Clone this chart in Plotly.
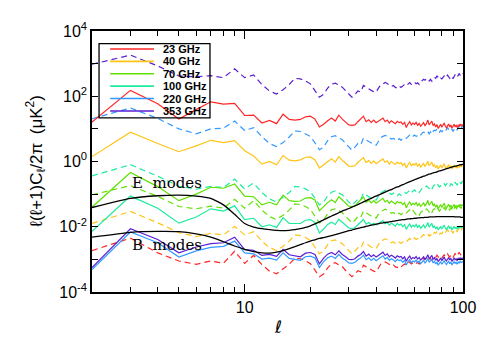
"""
Foreground E/B power spectra per frequency band, compared with the
CMB E-mode and B-mode spectra (log-log).
Values are stored as log10 of l(l+1)C_l/2pi in uK^2, one per multipole.
"""

import numpy as np
import plotly.graph_objects as go

ELL = list(range(2, 101))

FREQ_LABELS = ["23 GHz", "40 GHz", "70 GHz", "100 GHz", "220 GHz", "353 GHz"]
FREQ_COLORS = ["#ff2626", "#ffc414", "#5ee000", "#1cec9c", "#3399ff", "#5a1fd2"]

# --- solid lines (E) ---------------------------------------------------
E23 = [1.21, 2.18, 1.77, 1.30, 1.59, 1.83, 1.76, 1.78, 1.41, 1.42,
       1.18, 1.26, 1.16, 1.45, 1.29, 1.27, 1.29, 1.37, 1.39, 1.30,
       1.06, 1.14, 1.25, 1.33, 1.24, 1.42, 1.30, 1.22, 1.12, 1.11,
       1.12, 1.22, 1.30, 1.39, 1.22, 1.28, 1.20, 1.27, 1.19, 1.24,
       1.30, 1.33, 1.22, 1.27, 1.18, 1.25, 1.20, 1.16, 1.23, 1.19,
       1.21, 1.14, 1.20, 1.04, 1.15, 1.22, 1.12, 1.18, 1.14, 1.20,
       1.11, 1.17, 1.08, 1.13, 1.19, 1.10, 1.16, 1.27, 1.12, 1.18,
       1.24, 1.10, 1.15, 1.06, 1.13, 1.01, 1.09, 1.14, 1.05, 1.12,
       1.18, 1.08, 1.03, 1.10, 1.15, 1.06, 1.12, 1.02, 1.09, 1.14,
       1.07, 1.11, 1.04, 1.12, 1.08, 1.15, 1.09, 1.13, 1.10]
E40 = [0.15, 0.90, 0.55, 0.30, 0.48, 0.65, 0.58, 0.64, 0.33, 0.17,
       -0.08, 0.00, -0.10, 0.18, 0.04, 0.02, 0.05, 0.13, 0.14, 0.05,
       -0.20, -0.10, 0.00, 0.08, -0.02, 0.15, 0.04, -0.04, -0.14, -0.15,
       -0.13, -0.03, 0.05, 0.12, -0.03, 0.03, -0.06, 0.02, -0.07, -0.01,
       0.05, 0.08, -0.03, 0.02, -0.08, 0.00, -0.05, -0.09, -0.02, -0.06,
       -0.04, -0.12, -0.05, -0.20, -0.10, -0.03, -0.13, -0.07, -0.11, -0.05,
       -0.14, -0.08, -0.17, -0.12, -0.06, -0.15, -0.09, 0.01, -0.13, -0.07,
       -0.02, -0.15, -0.10, -0.19, -0.12, -0.23, -0.16, -0.11, -0.20, -0.13,
       -0.07, -0.17, -0.22, -0.15, -0.10, -0.19, -0.13, -0.23, -0.16, -0.11,
       -0.18, -0.14, -0.21, -0.13, -0.17, -0.10, -0.16, -0.12, -0.14]
E70 = [-1.40, -0.34, -0.77, -1.20, -1.00, -0.79, -0.82, -0.69, -1.06, -1.08,
       -1.33, -1.25, -1.33, -1.03, -1.20, -1.22, -1.21, -1.12, -1.11, -1.18,
       -1.51, -1.38, -1.26, -1.17, -1.26, -1.08, -1.19, -1.27, -1.37, -1.38,
       -1.36, -1.26, -1.18, -1.09, -1.25, -1.19, -1.27, -1.20, -1.28, -1.22,
       -1.16, -1.13, -1.24, -1.19, -1.28, -1.21, -1.26, -1.30, -1.23, -1.27,
       -1.25, -1.32, -1.26, -1.42, -1.31, -1.24, -1.34, -1.28, -1.32, -1.26,
       -1.35, -1.29, -1.38, -1.33, -1.27, -1.36, -1.30, -1.19, -1.34, -1.28,
       -1.22, -1.36, -1.31, -1.40, -1.33, -1.45, -1.37, -1.32, -1.41, -1.34,
       -1.28, -1.38, -1.43, -1.36, -1.31, -1.40, -1.34, -1.44, -1.37, -1.32,
       -1.39, -1.35, -1.42, -1.34, -1.38, -1.31, -1.37, -1.33, -1.36]
E100 = [-2.14, -1.06, -1.43, -1.89, -1.70, -1.45, -1.52, -1.36, -1.78, -1.74,
        -2.00, -1.94, -2.02, -1.72, -1.90, -1.89, -1.90, -1.80, -1.78, -1.87,
        -2.19, -2.07, -1.93, -1.86, -1.93, -1.77, -1.86, -1.96, -2.04, -2.06,
        -2.03, -1.94, -1.85, -1.78, -1.92, -1.87, -1.94, -1.89, -1.95, -1.90,
        -1.84, -1.81, -1.91, -1.87, -1.95, -1.89, -1.93, -1.98, -1.90, -1.95,
        -1.92, -2.00, -1.93, -2.08, -1.98, -1.91, -2.01, -1.95, -2.00, -1.93,
        -2.02, -1.96, -2.05, -2.00, -1.94, -2.03, -1.97, -1.87, -2.01, -1.95,
        -1.90, -2.03, -1.98, -2.06, -2.00, -2.10, -2.03, -1.99, -2.07, -2.01,
        -1.95, -2.04, -2.09, -2.02, -1.98, -2.06, -2.00, -2.10, -2.03, -1.99,
        -2.05, -2.01, -2.08, -2.00, -2.04, -1.98, -2.03, -2.00, -2.02]
E220 = [-3.31, -2.16, -2.49, -2.93, -2.74, -2.63, -2.60, -2.44, -2.80, -2.83,
        -2.99, -2.96, -3.02, -2.80, -2.97, -3.01, -3.03, -2.92, -2.90, -2.96,
        -3.25, -3.07, -2.95, -2.90, -2.97, -2.85, -2.96, -3.03, -3.11, -3.12,
        -3.09, -3.01, -2.96, -2.87, -3.01, -2.95, -3.03, -2.97, -3.04, -2.99,
        -2.93, -2.89, -2.99, -2.94, -3.03, -2.98, -3.02, -3.07, -3.00, -3.04,
        -3.02, -3.09, -3.03, -3.17, -3.07, -3.01, -3.10, -3.05, -3.08, -3.02,
        -3.10, -3.05, -3.13, -3.09, -3.03, -3.11, -3.06, -2.97, -3.09, -3.04,
        -2.99, -3.11, -3.06, -3.14, -3.08, -3.18, -3.11, -3.07, -3.15, -3.09,
        -3.04, -3.12, -3.16, -3.10, -3.06, -3.13, -3.08, -3.17, -3.11, -3.07,
        -3.12, -3.09, -3.15, -3.08, -3.11, -3.06, -3.10, -3.07, -3.09]
E353 = [-3.25, -2.06, -2.39, -2.80, -2.62, -2.52, -2.49, -2.32, -2.70, -2.72,
        -2.88, -2.85, -2.91, -2.69, -2.86, -2.90, -2.92, -2.81, -2.79, -2.85,
        -3.14, -2.96, -2.84, -2.79, -2.86, -2.74, -2.85, -2.92, -3.00, -3.01,
        -2.98, -2.90, -2.85, -2.76, -2.90, -2.84, -2.92, -2.86, -2.93, -2.88,
        -2.82, -2.78, -2.88, -2.83, -2.92, -2.87, -2.91, -2.96, -2.89, -2.93,
        -2.91, -2.98, -2.92, -3.06, -2.96, -2.90, -2.99, -2.94, -2.97, -2.91,
        -2.99, -2.94, -3.02, -2.98, -2.92, -3.00, -2.95, -2.86, -2.98, -2.93,
        -2.88, -3.00, -2.95, -3.03, -2.97, -3.07, -3.00, -2.96, -3.04, -2.98,
        -2.93, -3.01, -3.05, -2.99, -2.95, -3.02, -2.97, -3.06, -3.00, -2.96,
        -3.01, -2.98, -3.04, -2.97, -3.00, -2.95, -2.99, -2.96, -2.98]

# --- dashed lines (B) --------------------------------------------------
B23 = [-2.73, -2.35, -2.80, -3.05, -3.15, -3.05, -3.12, -2.75, -3.12, -2.88,
       -3.16, -3.36, -3.44, -3.30, -3.15, -2.96, -2.98, -3.04, -3.13, -3.33,
       -3.53, -3.45, -3.26, -3.14, -3.10, -3.17, -3.22, -3.34, -3.44, -3.53,
       -3.45, -3.35, -3.38, -3.18, -3.23, -3.28, -3.32, -3.36, -3.38, -3.25,
       -3.15, -3.12, -3.08, -3.11, -3.16, -3.20, -3.17, -3.23, -3.25, -3.19,
       -3.23, -3.17, -3.14, -3.18, -3.12, -3.08, -3.14, -3.10, -3.07, -3.12,
       -3.09, -3.14, -3.05, -3.01, -2.97, -3.00, -2.94, -2.96, -3.02, -2.97,
       -3.03, -2.95, -2.91, -2.94, -2.87, -2.92, -2.97, -2.93, -2.96, -2.91,
       -2.86, -2.92, -2.88, -2.83, -2.89, -2.93, -2.86, -2.88, -2.94, -2.88,
       -2.82, -2.86, -2.90, -2.84, -2.78, -2.83, -2.87, -2.80, -2.78]
B40 = [-1.90, -1.53, -1.88, -2.18, -2.30, -2.20, -2.25, -1.99, -2.25, -2.15,
       -2.44, -2.64, -2.73, -2.60, -2.44, -2.25, -2.27, -2.33, -2.42, -2.62,
       -2.83, -2.74, -2.55, -2.43, -2.40, -2.46, -2.52, -2.63, -2.73, -2.83,
       -2.75, -2.64, -2.67, -2.47, -2.52, -2.58, -2.62, -2.66, -2.67, -2.54,
       -2.44, -2.41, -2.37, -2.40, -2.45, -2.49, -2.46, -2.52, -2.53, -2.47,
       -2.51, -2.45, -2.42, -2.46, -2.40, -2.36, -2.42, -2.38, -2.34, -2.39,
       -2.36, -2.41, -2.32, -2.28, -2.24, -2.27, -2.21, -2.23, -2.29, -2.24,
       -2.30, -2.21, -2.17, -2.20, -2.13, -2.17, -2.23, -2.19, -2.22, -2.16,
       -2.12, -2.18, -2.14, -2.09, -2.15, -2.19, -2.12, -2.14, -2.20, -2.13,
       -2.07, -2.11, -2.15, -2.09, -2.03, -2.08, -2.12, -2.05, -2.03]
B70 = [-1.02, -0.74, -1.07, -1.38, -1.45, -1.37, -1.43, -1.16, -1.43, -1.20,
       -1.49, -1.69, -1.78, -1.65, -1.49, -1.30, -1.32, -1.38, -1.47, -1.67,
       -1.88, -1.79, -1.60, -1.48, -1.45, -1.51, -1.57, -1.68, -1.78, -1.88,
       -1.80, -1.69, -1.72, -1.52, -1.57, -1.63, -1.67, -1.71, -1.73, -1.62,
       -1.53, -1.50, -1.46, -1.49, -1.55, -1.59, -1.56, -1.62, -1.64, -1.58,
       -1.63, -1.57, -1.54, -1.58, -1.52, -1.48, -1.55, -1.50, -1.57, -1.63,
       -1.59, -1.65, -1.56, -1.53, -1.49, -1.52, -1.46, -1.49, -1.55, -1.50,
       -1.57, -1.48, -1.45, -1.48, -1.41, -1.46, -1.52, -1.47, -1.51, -1.46,
       -1.41, -1.48, -1.44, -1.39, -1.45, -1.49, -1.42, -1.45, -1.51, -1.44,
       -1.38, -1.42, -1.47, -1.40, -1.35, -1.40, -1.44, -1.37, -1.35]
B100 = [-0.44, -0.10, -0.45, -0.76, -0.85, -0.76, -0.80, -0.54, -0.84, -0.66,
        -0.95, -1.15, -1.24, -1.10, -0.95, -0.76, -0.78, -0.84, -0.93, -1.12,
        -1.33, -1.25, -1.05, -0.94, -0.90, -0.97, -1.02, -1.14, -1.23, -1.34,
        -1.25, -1.15, -1.17, -0.97, -1.03, -1.08, -1.12, -1.17, -1.18, -1.06,
        -0.95, -0.93, -0.88, -0.92, -0.96, -1.01, -0.97, -1.04, -1.05, -0.99,
        -1.04, -0.97, -0.95, -0.98, -0.93, -0.88, -0.95, -0.90, -0.87, -0.93,
        -0.89, -0.95, -0.86, -0.82, -0.79, -0.81, -0.75, -0.78, -0.83, -0.78,
        -0.85, -0.76, -0.72, -0.75, -0.68, -0.73, -0.78, -0.74, -0.77, -0.72,
        -0.68, -0.74, -0.70, -0.65, -0.71, -0.75, -0.68, -0.70, -0.76, -0.70,
        -0.64, -0.68, -0.72, -0.66, -0.60, -0.65, -0.69, -0.62, -0.60]
B220 = [1.31, 1.64, 1.32, 1.00, 0.85, 1.00, 1.02, 1.24, 0.95, 1.04,
        0.76, 0.55, 0.46, 0.58, 0.75, 0.94, 0.92, 0.84, 0.77, 0.57,
        0.36, 0.44, 0.64, 0.76, 0.79, 0.72, 0.67, 0.55, 0.46, 0.35,
        0.44, 0.55, 0.51, 0.72, 0.66, 0.61, 0.56, 0.53, 0.50, 0.64,
        0.73, 0.77, 0.80, 0.78, 0.72, 0.69, 0.71, 0.66, 0.63, 0.70,
        0.65, 0.72, 0.74, 0.71, 0.76, 0.81, 0.74, 0.79, 0.81, 0.77,
        0.79, 0.75, 0.82, 0.87, 0.90, 0.88, 0.93, 0.92, 0.85, 0.91,
        0.84, 0.93, 0.96, 0.94, 1.00, 0.97, 0.90, 0.95, 0.91, 0.97,
        1.00, 0.95, 0.98, 1.04, 0.97, 0.94, 1.00, 0.99, 0.92, 0.99,
        1.04, 1.01, 0.96, 1.03, 1.08, 1.04, 0.99, 1.07, 1.08]
B353 = [2.98, 3.26, 2.93, 2.62, 2.60, 2.63, 2.57, 2.84, 2.57, 2.65,
        2.36, 2.16, 2.07, 2.20, 2.36, 2.55, 2.53, 2.47, 2.38, 2.18,
        1.97, 2.06, 2.25, 2.37, 2.40, 2.34, 2.28, 2.17, 2.07, 1.97,
        2.05, 2.16, 2.13, 2.33, 2.28, 2.22, 2.18, 2.14, 2.12, 2.25,
        2.35, 2.38, 2.42, 2.39, 2.34, 2.30, 2.33, 2.27, 2.25, 2.31,
        2.27, 2.33, 2.36, 2.32, 2.38, 2.42, 2.36, 2.40, 2.43, 2.38,
        2.41, 2.36, 2.44, 2.48, 2.52, 2.49, 2.55, 2.53, 2.47, 2.52,
        2.46, 2.54, 2.58, 2.55, 2.62, 2.58, 2.52, 2.56, 2.53, 2.58,
        2.62, 2.56, 2.60, 2.65, 2.59, 2.55, 2.62, 2.60, 2.54, 2.60,
        2.66, 2.62, 2.58, 2.64, 2.70, 2.65, 2.61, 2.68, 2.70]

# --- CMB spectra (black) -----------------------------------------------
CMB_E = [-1.41, -1.13, -1.05, -1.03, -1.06, -1.13, -1.33, -1.62, -1.90, -2.01,
         -2.06, -2.09, -2.11, -2.12, -2.11, -2.09, -2.06, -2.02, -1.97, -1.91,
         -1.85, -1.79, -1.73, -1.67, -1.62, -1.57, -1.52, -1.48, -1.44, -1.40,
         -1.36, -1.32, -1.28, -1.24, -1.20, -1.16, -1.13, -1.09, -1.06, -1.03,
         -1.00, -0.97, -0.94, -0.91, -0.88, -0.86, -0.83, -0.80, -0.78, -0.76,
         -0.73, -0.71, -0.69, -0.66, -0.64, -0.62, -0.60, -0.58, -0.56, -0.54,
         -0.52, -0.50, -0.49, -0.47, -0.45, -0.44, -0.42, -0.40, -0.39, -0.38,
         -0.36, -0.35, -0.34, -0.33, -0.32, -0.30, -0.29, -0.28, -0.27, -0.26,
         -0.25, -0.23, -0.22, -0.21, -0.20, -0.19, -0.18, -0.17, -0.16, -0.15,
         -0.14, -0.14, -0.13, -0.12, -0.11, -0.10, -0.10, -0.09, -0.08]
CMB_B = [-2.32, -2.17, -2.14, -2.15, -2.22, -2.32, -2.46, -2.59, -2.69, -2.76,
         -2.80, -2.81, -2.78, -2.73, -2.67, -2.61, -2.55, -2.49, -2.44, -2.40,
         -2.36, -2.33, -2.30, -2.27, -2.24, -2.21, -2.18, -2.15, -2.12, -2.10,
         -2.07, -2.05, -2.03, -2.01, -1.99, -1.97, -1.95, -1.94, -1.92, -1.91,
         -1.89, -1.88, -1.87, -1.86, -1.85, -1.84, -1.83, -1.82, -1.81, -1.80,
         -1.79, -1.78, -1.78, -1.77, -1.76, -1.76, -1.75, -1.75, -1.74, -1.74,
         -1.73, -1.73, -1.72, -1.72, -1.72, -1.71, -1.71, -1.71, -1.70, -1.70,
         -1.70, -1.70, -1.70, -1.69, -1.69, -1.69, -1.69, -1.69, -1.69, -1.69,
         -1.69, -1.69, -1.69, -1.69, -1.69, -1.69, -1.69, -1.69, -1.69, -1.69,
         -1.70, -1.70, -1.70, -1.70, -1.70, -1.70, -1.71, -1.71, -1.71]

E_SERIES = [E23, E40, E70, E100, E220, E353]
B_SERIES = [B23, B40, B70, B100, B220, B353]

Y_MAJOR = [1e-4, 1e-2, 1e0, 1e2, 1e4]
Y_MAJOR_TEXT = ["10<sup>-4</sup>", "10<sup>-2</sup>", "10<sup>0</sup>",
                "10<sup>2</sup>", "10<sup>4</sup>"]
Y_MINOR = [1e-3, 1e-1, 1e1, 1e3]
X_MAJOR = [10, 100]
X_MINOR = [2, 3, 4, 5, 6, 7, 8, 9, 20, 30, 40, 50, 60, 70, 80, 90]

for s in E_SERIES + B_SERIES + [CMB_E, CMB_B]:
    assert len(s) == len(ELL)


def power(vals):
    return 10 ** np.array(vals)


fig = go.Figure()

# dashed first, solid on top
for color, vals in zip(FREQ_COLORS, B_SERIES):
    fig.add_trace(go.Scatter(
        x=ELL, y=power(vals), mode="lines",
        line=dict(color=color, width=1.2, dash="6px,4px"),
        hoverinfo="skip", showlegend=False))

for color, vals in zip(FREQ_COLORS, E_SERIES):
    fig.add_trace(go.Scatter(
        x=ELL, y=power(vals), mode="lines",
        line=dict(color=color, width=1.2),
        hoverinfo="skip", showlegend=False))

for vals in (CMB_E, CMB_B):
    fig.add_trace(go.Scatter(
        x=ELL, y=power(vals), mode="lines",
        line=dict(color="black", width=1.3, shape="spline", smoothing=0.5),
        hoverinfo="skip", showlegend=False))

# hand-drawn legend box (transparent, tight row spacing like the original)
LEG_X0, LEG_X1, LEG_Y0, LEG_Y1 = 0.019, 0.318, 0.667, 0.952
shapes = [dict(type="rect", xref="paper", yref="paper",
               x0=LEG_X0, x1=LEG_X1, y0=LEG_Y0, y1=LEG_Y1,
               line=dict(color="black", width=1.3), fillcolor="rgba(0,0,0,0)")]
annotations = []
row_h = (LEG_Y1 - LEG_Y0) / len(FREQ_LABELS)
for i, (label, color) in enumerate(zip(FREQ_LABELS, FREQ_COLORS)):
    yy = LEG_Y1 - row_h * (i + 0.5) + 0.003
    shapes.append(dict(type="line", xref="paper", yref="paper",
                       x0=0.049, x1=0.167, y0=yy, y1=yy,
                       line=dict(color=color, width=1.6)))
    annotations.append(dict(xref="paper", yref="paper", x=0.186, y=yy,
                            xanchor="left", yanchor="middle", showarrow=False,
                            text="<b>%s</b>" % label,
                            font=dict(family="Liberation Sans", size=11, color="black")))

annotations += [
    dict(xref="paper", yref="paper", x=0.102, y=0.417, xanchor="left",
         yanchor="middle", showarrow=False, text="E  modes",
         font=dict(family="DejaVu Serif", size=15, color="black")),
    dict(xref="paper", yref="paper", x=0.102, y=0.180, xanchor="left",
         yanchor="middle", showarrow=False, text="B  modes",
         font=dict(family="DejaVu Serif", size=15, color="black")),
    dict(xref="paper", yref="paper", x=-0.151, y=0.5, textangle=-90,
         xanchor="center", yanchor="middle", showarrow=False,
         text="ℓ(ℓ+1)C<sub>ℓ</sub>/2π\u2002(μK<sup>2</sup>)",
         font=dict(family="Liberation Sans", size=17, color="black")),
    dict(xref="paper", yref="paper", x=0.5, y=-0.133, xanchor="center",
         yanchor="middle", showarrow=False, text="<i>ℓ</i>",
         font=dict(family="DejaVu Sans", size=17, color="black")),
]

# the page body adds an 8px offset, so the figure is shrunk by that much
fig.update_layout(
    width=483, height=342,
    margin=dict(l=84, r=28, t=20, b=58),
    paper_bgcolor="white", plot_bgcolor="white",
    showlegend=False,
    font=dict(family="Liberation Sans", size=15, color="black"),
    shapes=shapes, annotations=annotations,
)
fig.update_xaxes(
    type="log", range=[np.log10(2), 2],
    showline=True, linecolor="black", linewidth=1.5, mirror="ticks",
    ticks="inside", ticklen=8, tickwidth=1, tickcolor="black",
    tickvals=X_MAJOR, ticktext=["10", "100"], tickfont=dict(size=16),
    minor=dict(tickvals=X_MINOR, ticks="inside", ticklen=5,
               tickwidth=1, tickcolor="black", showgrid=False),
    showgrid=False, zeroline=False,
)
fig.update_yaxes(
    type="log", range=[-4, 4],
    showline=True, linecolor="black", linewidth=1.5, mirror="ticks",
    ticks="inside", ticklen=6, tickwidth=1, tickcolor="black",
    tickvals=Y_MAJOR, ticktext=Y_MAJOR_TEXT, tickfont=dict(size=16),
    minor=dict(tickvals=Y_MINOR, ticks="inside", ticklen=6,
               tickwidth=1, tickcolor="black", showgrid=False),
    showgrid=False, zeroline=False,
)

fig.write_html("out.html")
